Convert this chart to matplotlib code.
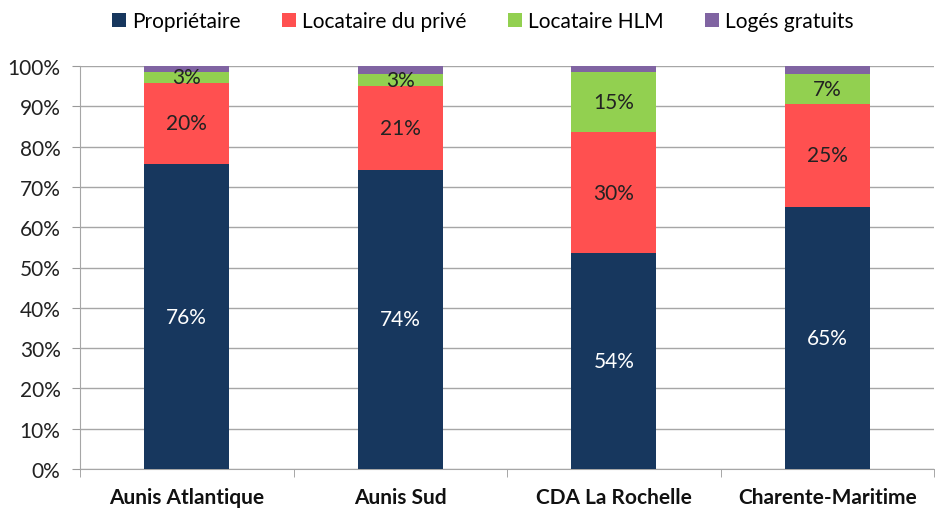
import matplotlib
matplotlib.use("Agg")
import matplotlib.pyplot as plt
import numpy as np

categories = ["Aunis Atlantique", "Aunis Sud", "CDA La Rochelle", "Charente-Maritime"]
series_names = ["Propriétaire", "Locataire du privé", "Locataire HLM", "Logés gratuits"]
proprietaire = [75.6, 74.2, 53.5, 65.1]
locataire_prive = [20.3, 20.8, 30.2, 25.4]
locataire_hlm = [2.6, 3.1, 14.7, 7.4]
loges_gratuits = [1.5, 1.9, 1.6, 2.1]
colors = ["#17375E", "#FF5050", "#92D050", "#8064A2"]
label_colors = ["white", "#222222", "#222222", None]

plt.rcParams['font.family'] = ['Lato', 'DejaVu Sans']

fig = plt.figure(figsize=(9.35, 5.10), dpi=100)
ax = fig.add_axes([80/935, 1 - 470/510, 854/935, 403/510])

x = np.arange(len(categories))
bottom = np.zeros(len(categories))
all_series = [proprietaire, locataire_prive, locataire_hlm, loges_gratuits]
handles = []
for vals, name, col, lc in zip(all_series, series_names, colors, label_colors):
    vals = np.array(vals)
    b = ax.bar(x, vals, 0.4, bottom=bottom, color=col, label=name, zorder=3)
    handles.append(b)
    if lc is not None:
        for xi, v, bt in zip(x, vals, bottom):
            ax.text(xi, bt + v / 2, f"{int(v + 0.5):d}%", ha="center", va="center",
                    color=lc, fontsize=15, zorder=4)
    bottom += vals

ax.set_xlim(-0.5, len(categories) - 0.5)
ax.set_ylim(0, 100)
ax.set_yticks(np.arange(0, 101, 10))
ax.set_yticklabels([f"{v}%" for v in range(0, 101, 10)], fontsize=15, color="#222222")
ax.set_xticks(x)
ax.set_xticklabels(categories, fontsize=15, fontweight="bold", color="#111111")
ax.set_xticks(np.arange(-0.5, len(categories), 1), minor=True)
ax.tick_params(axis="x", which="major", length=0, pad=13)
ax.tick_params(axis="x", which="minor", length=6, color="#999999", direction="out")
ax.tick_params(axis="y", length=6, color="#999999", pad=8)
ax.grid(axis="y", color="#a6a6a6", linewidth=1, zorder=0)
for s in ["top", "right"]:
    ax.spines[s].set_visible(False)
ax.spines["left"].set_color("#a6a6a6")
ax.spines["bottom"].set_color("#a6a6a6")

fig.legend(handles=handles, labels=series_names, loc="center", bbox_to_anchor=(483/935, 1 - 22/510),
           ncol=4, frameon=False, fontsize=15, handlelength=0.65, handleheight=0.65,
           handletextpad=0.3, columnspacing=2.0)

fig.savefig("out.png", dpi=100)
